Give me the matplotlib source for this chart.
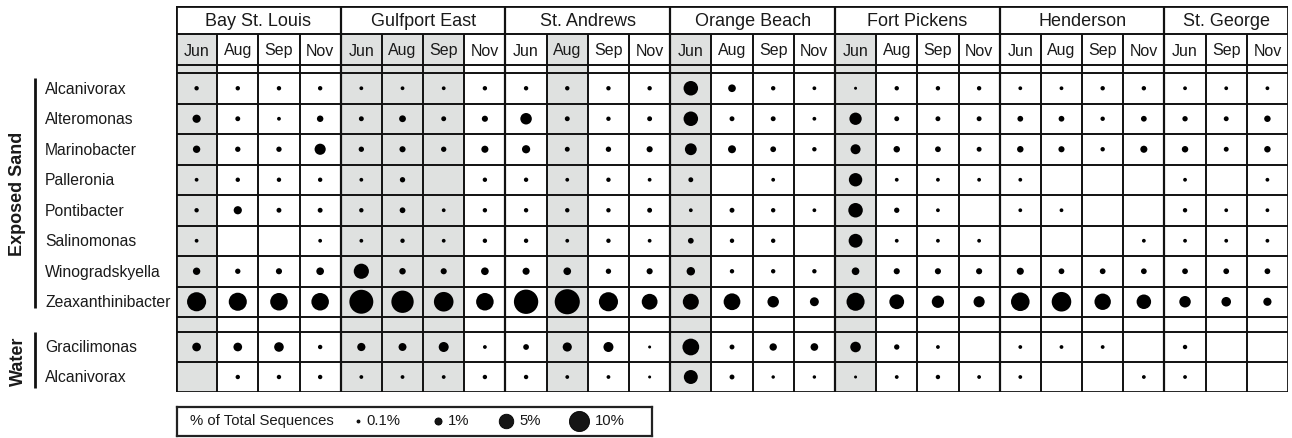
import numpy as np
import matplotlib
matplotlib.use("Agg")
import matplotlib.pyplot as plt
import matplotlib.transforms as mtransforms
from matplotlib.patches import Rectangle

plt.rcParams['font.family'] = ['Liberation Sans', 'DejaVu Sans']

# ---------------- data ----------------
sites = ["Bay St. Louis", "Gulfport East", "St. Andrews", "Orange Beach",
         "Fort Pickens", "Henderson", "St. George"]
site_months = [["Jun", "Aug", "Sep", "Nov"], ["Jun", "Aug", "Sep", "Nov"],
               ["Jun", "Aug", "Sep", "Nov"], ["Jun", "Aug", "Sep", "Nov"],
               ["Jun", "Aug", "Sep", "Nov"], ["Jun", "Aug", "Sep", "Nov"],
               ["Jun", "Sep", "Nov"]]
shaded = {"Bay St. Louis": ["Jun"], "Gulfport East": ["Jun", "Aug", "Sep"],
          "St. Andrews": ["Aug"], "Orange Beach": ["Jun"], "Fort Pickens": ["Jun"]}

groups = ["Exposed Sand", "Water"]
sand_taxa = ["Alcanivorax", "Alteromonas", "Marinobacter", "Palleronia",
             "Pontibacter", "Salinomonas", "Winogradskyella", "Zeaxanthinibacter"]
water_taxa = ["Gracilimonas", "Alcanivorax"]

N = None
# % of total sequences, columns in site/month order above
sand_alcanivorax = [0.3, 0.3, 0.3, 0.3, 0.2, 0.2, 0.2, 0.3, 0.3, 0.3, 0.3, 0.3,
                    5.0, 1.2, 0.3, 0.2, 0.1, 0.3, 0.3, 0.3, 0.2, 0.2, 0.3, 0.3,
                    0.2, 0.2, 0.2]
alteromonas = [1.4, 0.4, 0.2, 0.8, 0.4, 0.9, 0.4, 0.7, 3.0, 0.4, 0.3, 0.4,
               5.0, 0.4, 0.4, 0.2, 3.5, 0.4, 0.4, 0.4, 0.6, 0.6, 0.3, 0.6,
               0.5, 0.4, 0.8]
marinobacter = [1.1, 0.5, 0.5, 2.8, 0.5, 0.7, 0.5, 1.0, 1.4, 0.4, 0.5, 0.7,
                3.2, 1.3, 0.6, 0.3, 2.2, 0.8, 0.6, 0.4, 0.8, 0.7, 0.3, 1.0,
                0.8, 0.4, 0.8]
palleronia = [0.2, 0.3, 0.3, 0.3, 0.2, 0.5, N, 0.3, 0.3, 0.2, 0.3, 0.2,
              0.4, N, 0.2, N, 4.2, 0.2, 0.2, 0.2, 0.2, N, N, N,
              0.2, N, 0.2]
pontibacter = [0.3, 1.4, 0.4, 0.4, 0.3, 0.6, 0.2, 0.3, 0.3, 0.3, 0.3, 0.4,
               0.2, 0.4, 0.3, 0.2, 5.0, 0.5, 0.2, N, 0.2, 0.2, N, N,
               0.3, 0.2, 0.2]
salinomonas = [0.2, N, N, 0.2, 0.2, 0.3, 0.2, 0.3, 0.3, 0.2, 0.3, 0.2,
               0.6, 0.3, 0.3, N, 4.5, 0.2, 0.2, 0.2, N, N, N, 0.2,
               0.2, 0.2, 0.2]
winogradskyella = [1.1, 0.5, 0.7, 1.2, 5.5, 0.8, 0.7, 1.2, 1.0, 1.2, 0.5, 0.7,
                   1.5, 0.3, 0.3, 0.3, 1.2, 0.7, 0.7, 0.7, 1.0, 0.6, 0.6, 0.6,
                   0.6, 0.6, 0.6]
zeaxanthinibacter = [9.0, 8.0, 7.5, 7.5, 14.5, 12.5, 9.5, 7.5, 15.0, 16.0, 9.0, 6.0,
                     6.2, 6.8, 3.0, 1.7, 8.0, 5.2, 3.5, 2.8, 8.5, 9.5, 6.5, 5.0,
                     3.0, 2.0, 1.4]
gracilimonas = [1.6, 1.6, 2.0, 0.3, 1.4, 1.3, 2.2, 0.2, 0.6, 1.8, 2.2, 0.1,
                6.8, 0.4, 1.1, 1.2, 2.5, 0.5, 0.2, N, 0.2, 0.2, 0.2, N,
                0.3, N, N]
water_alcanivorax = [N, 0.3, 0.3, 0.3, 0.2, 0.2, 0.2, 0.3, 0.3, 0.2, 0.2, 0.1,
                     4.6, 0.4, 0.15, 0.15, 0.1, 0.2, 0.3, 0.2, 0.2, N, N, 0.2,
                     0.2, N, N]

sand_values = [sand_alcanivorax, alteromonas, marinobacter, palleronia,
               pontibacter, salinomonas, winogradskyella, zeaxanthinibacter]
water_values = [gracilimonas, water_alcanivorax]

legend_values = [0.1, 1, 5, 10]
legend_labels = ["0.1%", "1%", "5%", "10%"]
legend_title = "% of Total Sequences"

# ---------------- layout ----------------
W, H = 1292, 439
DPI = 100
fig = plt.figure(figsize=(W / DPI, H / DPI), dpi=DPI)

tab_left, tab_right, tab_top, tab_bot = 176, 1288, 7, 393
ax = fig.add_axes([tab_left / W, 1 - tab_bot / H, (tab_right - tab_left) / W,
                   (tab_bot - tab_top) / H])
ncol = sum(len(m) for m in site_months)
total_h = tab_bot - tab_top
ax.set_xlim(0, ncol)
ax.set_ylim(total_h, 0)
ax.axis("off")

site_h, month_h, gap1_h, sand_row_h, gap2_h = 28, 31, 8, 30.5, 15
water_row_h = (total_h - site_h - month_h - gap1_h - gap2_h
               - sand_row_h * len(sand_taxa)) / len(water_taxa)

y_month0 = site_h
y_gap1 = y_month0 + month_h
y_sand0 = y_gap1 + gap1_h
y_gap2 = y_sand0 + sand_row_h * len(sand_taxa)
y_water0 = y_gap2 + gap2_h

grey = "#dfe1e0"
lw_in = 1.4
lw_out = 2.0

col = 0
site_bounds = [0]
col_month = []
col_shade = []
for s, months in zip(sites, site_months):
    for m in months:
        col_month.append(m)
        col_shade.append(m in shaded.get(s, []))
        col += 1
    site_bounds.append(col)

for c, sh in enumerate(col_shade):
    if sh:
        ax.add_patch(Rectangle((c, y_month0), 1, total_h - y_month0,
                               facecolor=grey, edgecolor="none", zorder=0))

h_lines = [site_h, y_gap1, y_sand0]
h_lines += [y_sand0 + sand_row_h * i for i in range(1, len(sand_taxa) + 1)]
h_lines += [y_water0]
h_lines += [y_water0 + water_row_h * i for i in range(1, len(water_taxa))]
ax.hlines(h_lines, 0, ncol, colors="#111111", linewidth=lw_in, zorder=2)

ax.vlines([c for c in range(1, ncol) if c not in site_bounds], y_month0, total_h,
          colors="#111111", linewidth=lw_in, zorder=2)
ax.vlines(site_bounds[1:-1], 0, total_h, colors="#111111", linewidth=lw_in + 0.2, zorder=2)

ax.add_patch(Rectangle((0, 0), ncol, total_h, facecolor="none",
                       edgecolor="#111111", linewidth=lw_out, zorder=3))

for i, s in enumerate(sites):
    ax.text((site_bounds[i] + site_bounds[i + 1]) / 2, site_h / 2 + 0.5, s,
            ha="center", va="center", fontsize=13, color="#1a1a1a")
for c, m in enumerate(col_month):
    ax.text(c + 0.5, y_month0 + month_h / 2 + 0.5, m, ha="center", va="center",
            fontsize=11.5, color="#1a1a1a")


def msize(v):
    d_px = 1.1 + 6.0 * np.sqrt(np.asarray(v, dtype=float))
    return (d_px * 72 / DPI) ** 2


def draw_rows(values, y0, rh):
    xs, ys, vs = [], [], []
    for r, row in enumerate(values):
        for c, v in enumerate(row):
            if v is None:
                continue
            xs.append(c + 0.5)
            ys.append(y0 + rh * (r + 0.5))
            vs.append(v)
    ax.scatter(xs, ys, s=msize(vs), marker="o", c="#000000",
               edgecolors="none", zorder=4)


draw_rows(sand_values, y_sand0, sand_row_h)
draw_rows(water_values, y_water0, water_row_h)

blend = mtransforms.blended_transform_factory(fig.transFigure, ax.transData)
lab_x = 45 / W
for r, name in enumerate(sand_taxa):
    ax.text(lab_x, y_sand0 + sand_row_h * (r + 0.5), name, transform=blend,
            ha="left", va="center", fontsize=11.3, color="#1a1a1a")
for r, name in enumerate(water_taxa):
    ax.text(lab_x, y_water0 + water_row_h * (r + 0.5), name, transform=blend,
            ha="left", va="center", fontsize=11.3, color="#1a1a1a")

bar_x = 35 / W
grp_x = 18 / W
spans = [(y_sand0 + 5, y_gap2 - 9), (y_water0, total_h - 4)]
for g, (a, b) in zip(groups, spans):
    ax.plot([bar_x, bar_x], [a, b], transform=blend, color="#111111",
            linewidth=2.0, clip_on=False, solid_capstyle="butt")
    ax.text(grp_x, (a + b) / 2, g, transform=blend, rotation=90, ha="center",
            va="center", fontsize=13, fontweight="bold", color="#1a1a1a")

lg_l, lg_r, lg_t, lg_b = 177, 652, 408, 437
lax = fig.add_axes([lg_l / W, 1 - lg_b / H, (lg_r - lg_l) / W, (lg_b - lg_t) / H])
lax.set_xlim(0, lg_r - lg_l)
lax.set_ylim(0, lg_b - lg_t)
lax.set_xticks([])
lax.set_yticks([])
for sp in lax.spines.values():
    sp.set_linewidth(1.6)
    sp.set_color("#222222")
ly = (lg_b - lg_t) / 2 + 1
lax.text(13, ly, legend_title, ha="left", va="center", fontsize=10.7, color="#1a1a1a")
mk_x = [181, 261, 329, 402]
for x, v, lab in zip(mk_x, legend_values, legend_labels):
    lax.scatter([x], [ly], s=msize(v), marker="o", c="#151515",
                edgecolors="#000000", linewidths=0.6, zorder=3)
    lax.text(x + 7 + 0.45 * (1.1 + 6 * np.sqrt(v)), ly, lab, ha="left", va="center",
             fontsize=10.7, color="#1a1a1a")

fig.savefig("out.png", dpi=DPI)
